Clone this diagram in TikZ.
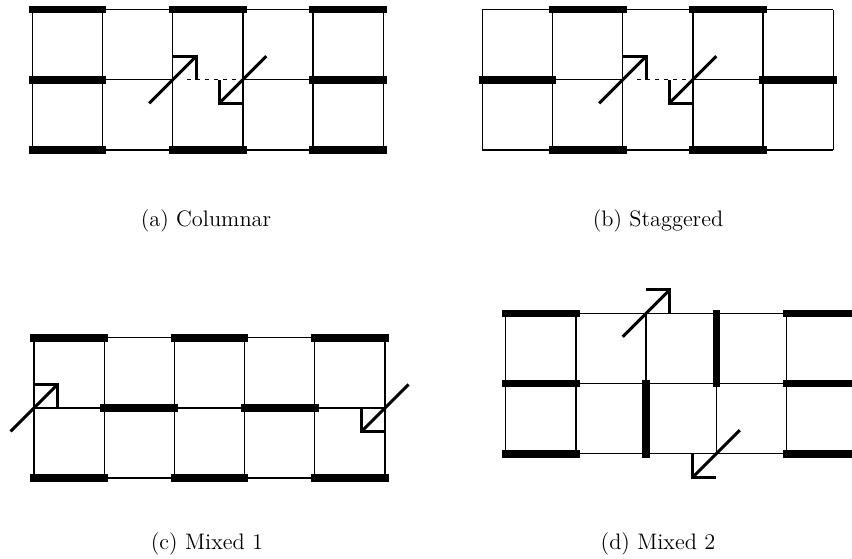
\documentclass[tikz,border=0pt]{standalone}
\begin{document}
\begin{tikzpicture}[x=0.5pt,y=-0.5pt,
  thinline/.style={line width=0.65pt},
  bar/.style={line width=3.8pt,line cap=rect},
  arr/.style={line width=1.5pt},
  dashline/.style={line width=0.55pt,dash pattern=on 2pt off 2.5pt},
  captext/.style={font=\fontsize{11.2}{13}\selectfont,anchor=base},
  panel/.style={x=35.1pt,y=-35.1pt},
  nearrow/.pic={\draw[arr] (-0.335,0.335) -- (0.335,-0.335);
                \draw[arr,line join=miter] (0,-0.335) -- (0.335,-0.335) -- (0.335,0);},
  swarrow/.pic={\draw[arr] (0.335,-0.335) -- (-0.335,0.335);
                \draw[arr,line join=miter] (-0.335,0) -- (-0.335,0.335) -- (0,0.335);}
]
\clip (0,0) rectangle (852,558);
\fill[white] (0,0) rectangle (852,558);

% (a) Columnar
\begin{scope}[shift={(32.3,9.5)},panel]
  \foreach \c in {0,...,5} \draw[thinline] (\c,0) -- (\c,2);
  \draw[thinline] (0,0) -- (5,0) (0,2) -- (5,2) (0,1) -- (2,1) (3,1) -- (5,1);
  \foreach \c in {0,2,4} \foreach \r in {0,2} \draw[bar] (\c,\r) -- (\c+1,\r);
  \foreach \c in {0,4} \draw[bar] (\c,1) -- (\c+1,1);
  \draw[dashline] (2.21,1) -- (2.97,1);
  \pic at (2,1) {nearrow};
  \pic at (3,1) {swarrow};
\end{scope}

% (b) Staggered
\begin{scope}[shift={(482.3,9.5)},panel]
  \foreach \c in {0,...,5} \draw[thinline] (\c,0) -- (\c,2);
  \draw[thinline] (0,0) -- (5,0) (0,2) -- (5,2) (0,1) -- (2,1) (3,1) -- (5,1);
  \foreach \c in {1,3} \foreach \r in {0,2} \draw[bar] (\c,\r) -- (\c+1,\r);
  \foreach \c in {0,4} \draw[bar] (\c,1) -- (\c+1,1);
  \draw[dashline] (2.21,1) -- (2.97,1);
  \pic at (2,1) {nearrow};
  \pic at (3,1) {swarrow};
\end{scope}

% (c) Mixed 1
\begin{scope}[shift={(34,337.7)},panel]
  \foreach \c in {0,...,5} \draw[thinline] (\c,0) -- (\c,2);
  \foreach \r in {0,1,2} \draw[thinline] (0,\r) -- (5,\r);
  \foreach \c in {0,2,4} \foreach \r in {0,2} \draw[bar] (\c,\r) -- (\c+1,\r);
  \foreach \c in {1,3} \draw[bar] (\c,1) -- (\c+1,1);
  \pic at (0,1) {nearrow};
  \pic at (5,1) {swarrow};
\end{scope}

% (d) Mixed 2
\begin{scope}[shift={(505.7,313.3)},panel]
  \foreach \c in {0,...,5} \draw[thinline] (\c,0) -- (\c,2);
  \foreach \r in {0,1,2} \draw[thinline] (0,\r) -- (5,\r);
  \foreach \c in {0,4} \foreach \r in {0,1,2} \draw[bar] (\c,\r) -- (\c+1,\r);
  \draw[bar] (2,1) -- (2,2);
  \draw[bar] (3,0) -- (3,1);
  \pic at (2,0) {nearrow};
  \pic at (3,2) {swarrow};
\end{scope}

\node[captext] (ca) at (206,226) {(a) Columnar};
\node[captext] (cb) at (658,226) {(b) Staggered};
\node[captext] (cc) at (207,549) {(c) Mixed 1};
\node[captext] (cd) at (658,549) {(d) Mixed 2};
\end{tikzpicture}
\end{document}
